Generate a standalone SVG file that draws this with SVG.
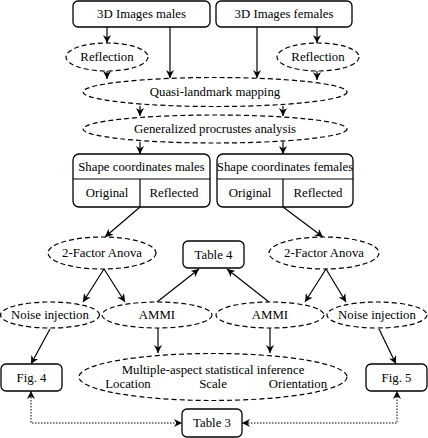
<svg xmlns="http://www.w3.org/2000/svg" width="428" height="438" viewBox="0 0 428 438">
<style>
text{font-family:'Liberation Serif','Times New Roman',serif;font-size:12.8px;fill:#000;text-anchor:middle;dominant-baseline:central}
.box{fill:#fff;stroke:#000;stroke-width:1.3}
.ell{fill:#fff;stroke:#000;stroke-width:1.2;stroke-dasharray:5 3}
.ln{fill:none;stroke:#000;stroke-width:1.2}
.e{fill:none;stroke:#000;stroke-width:1.2;marker-end:url(#ah)}
.d{fill:none;stroke:#000;stroke-width:1;stroke-dasharray:1.5 1.5;marker-end:url(#ah);marker-start:url(#ahs)}
</style>
<defs>
<marker id="ah" viewBox="0 0 10 10" refX="10" refY="5" markerWidth="8" markerHeight="8" markerUnits="userSpaceOnUse" orient="auto"><path d="M0,0 L10,5 L0,10 L3,5 Z" fill="#000"/></marker>
<marker id="ahs" viewBox="0 0 10 10" refX="0" refY="5" markerWidth="8" markerHeight="8" markerUnits="userSpaceOnUse" orient="auto"><path d="M10,0 L0,5 L10,10 L7,5 Z" fill="#000"/></marker>
</defs>
<g id="connectors">
<path class="e" d="M107,27 V43"/>
<path class="e" d="M317,27 V43"/>
<path class="e" d="M170,27 V78"/>
<path class="e" d="M257,27 V78"/>
<path class="e" d="M107,71 V79"/>
<path class="e" d="M317,71 V80"/>
<path class="e" d="M140,106 V116"/>
<path class="e" d="M283,106 V116"/>
<path class="e" d="M140,142 V154"/>
<path class="e" d="M283,142 V154"/>
<path class="e" d="M140,207 L105,237"/>
<path class="e" d="M283,207 L323,237"/>
<path class="e" d="M104,269 L83,302"/>
<path class="e" d="M104,269 L125,302"/>
<path class="e" d="M326,269 L305,302"/>
<path class="e" d="M326,269 L346,302"/>
<path class="e" d="M157,302 L199,269"/>
<path class="e" d="M269,302 L227,269"/>
<path class="e" d="M50,329 L31,364"/>
<path class="e" d="M379,329 L396,364"/>
<path class="e" d="M158,328 V353"/>
<path class="e" d="M270,328 V353"/>
<path class="d" d="M31,391 V423 H182"/>
<path class="d" d="M242,423 H397 V391"/>
</g>
<g id="img-males"><rect class="box" x="73" y="1" width="137" height="26" rx="5"/><text x="141.5" y="14">3D Images males</text></g>
<g id="img-females"><rect class="box" x="216" y="1" width="136" height="26" rx="5"/><text x="284" y="14">3D Images females</text></g>
<g id="refl-left"><ellipse class="ell" cx="107" cy="57" rx="41" ry="14"/><text x="107" y="57">Reflection</text></g>
<g id="refl-right"><ellipse class="ell" cx="318" cy="57" rx="41" ry="14"/><text x="318" y="57">Reflection</text></g>
<g id="quasi"><ellipse class="ell" cx="215" cy="92" rx="132" ry="14.5"/><text x="215" y="92">Quasi-landmark mapping</text></g>
<g id="gpa"><ellipse class="ell" cx="215" cy="129" rx="132" ry="14"/><text x="215" y="129">Generalized procrustes analysis</text></g>
<g id="shape-males"><rect class="box" x="73" y="154" width="137" height="53" rx="6"/><path class="ln" d="M73,179 H210 M140,179 V207"/><text x="141.5" y="167">Shape coordinates males</text><text x="107" y="192.5">Original</text><text x="174" y="192.5">Reflected</text></g>
<g id="shape-females"><rect class="box" x="217" y="154" width="136" height="53" rx="6"/><path class="ln" d="M217,179 H353 M283,179 V207"/><text x="285" y="167">Shape coordinates females</text><text x="250" y="192.5">Original</text><text x="318" y="192.5">Reflected</text></g>
<g id="anova-left"><ellipse class="ell" cx="102" cy="253" rx="54" ry="16"/><text x="102" y="253">2-Factor Anova</text></g>
<g id="anova-right"><ellipse class="ell" cx="324" cy="253" rx="55" ry="16"/><text x="324" y="253">2-Factor Anova</text></g>
<g id="table4"><rect class="box" x="183" y="241" width="61" height="27" rx="5"/><text x="213.5" y="254.5">Table 4</text></g>
<g id="noise-left"><ellipse class="ell" cx="50" cy="315" rx="49.5" ry="13"/><text x="50" y="315">Noise injection</text></g>
<g id="ammi-left"><ellipse class="ell" cx="157" cy="315" rx="55" ry="13"/><text x="157" y="315">AMMI</text></g>
<g id="ammi-right"><ellipse class="ell" cx="270" cy="315" rx="54" ry="13"/><text x="270" y="315">AMMI</text></g>
<g id="noise-right"><ellipse class="ell" cx="377" cy="315" rx="50" ry="13"/><text x="377" y="315">Noise injection</text></g>
<g id="fig4"><rect class="box" x="1" y="364" width="61" height="27" rx="5"/><text x="31.5" y="377.5">Fig. 4</text></g>
<g id="fig5"><rect class="box" x="366" y="364" width="61" height="27" rx="5"/><text x="396.5" y="377.5">Fig. 5</text></g>
<g id="inference"><ellipse class="ell" cx="213" cy="377" rx="134" ry="23.5"/><text x="213" y="370">Multiple-aspect statistical inference</text><text x="128" y="384">Location</text><text x="213" y="384">Scale</text><text x="298" y="384">Orientation</text></g>
<g id="table3"><rect class="box" x="182" y="409" width="60" height="28" rx="5"/><text x="212" y="423">Table 3</text></g>
</svg>
